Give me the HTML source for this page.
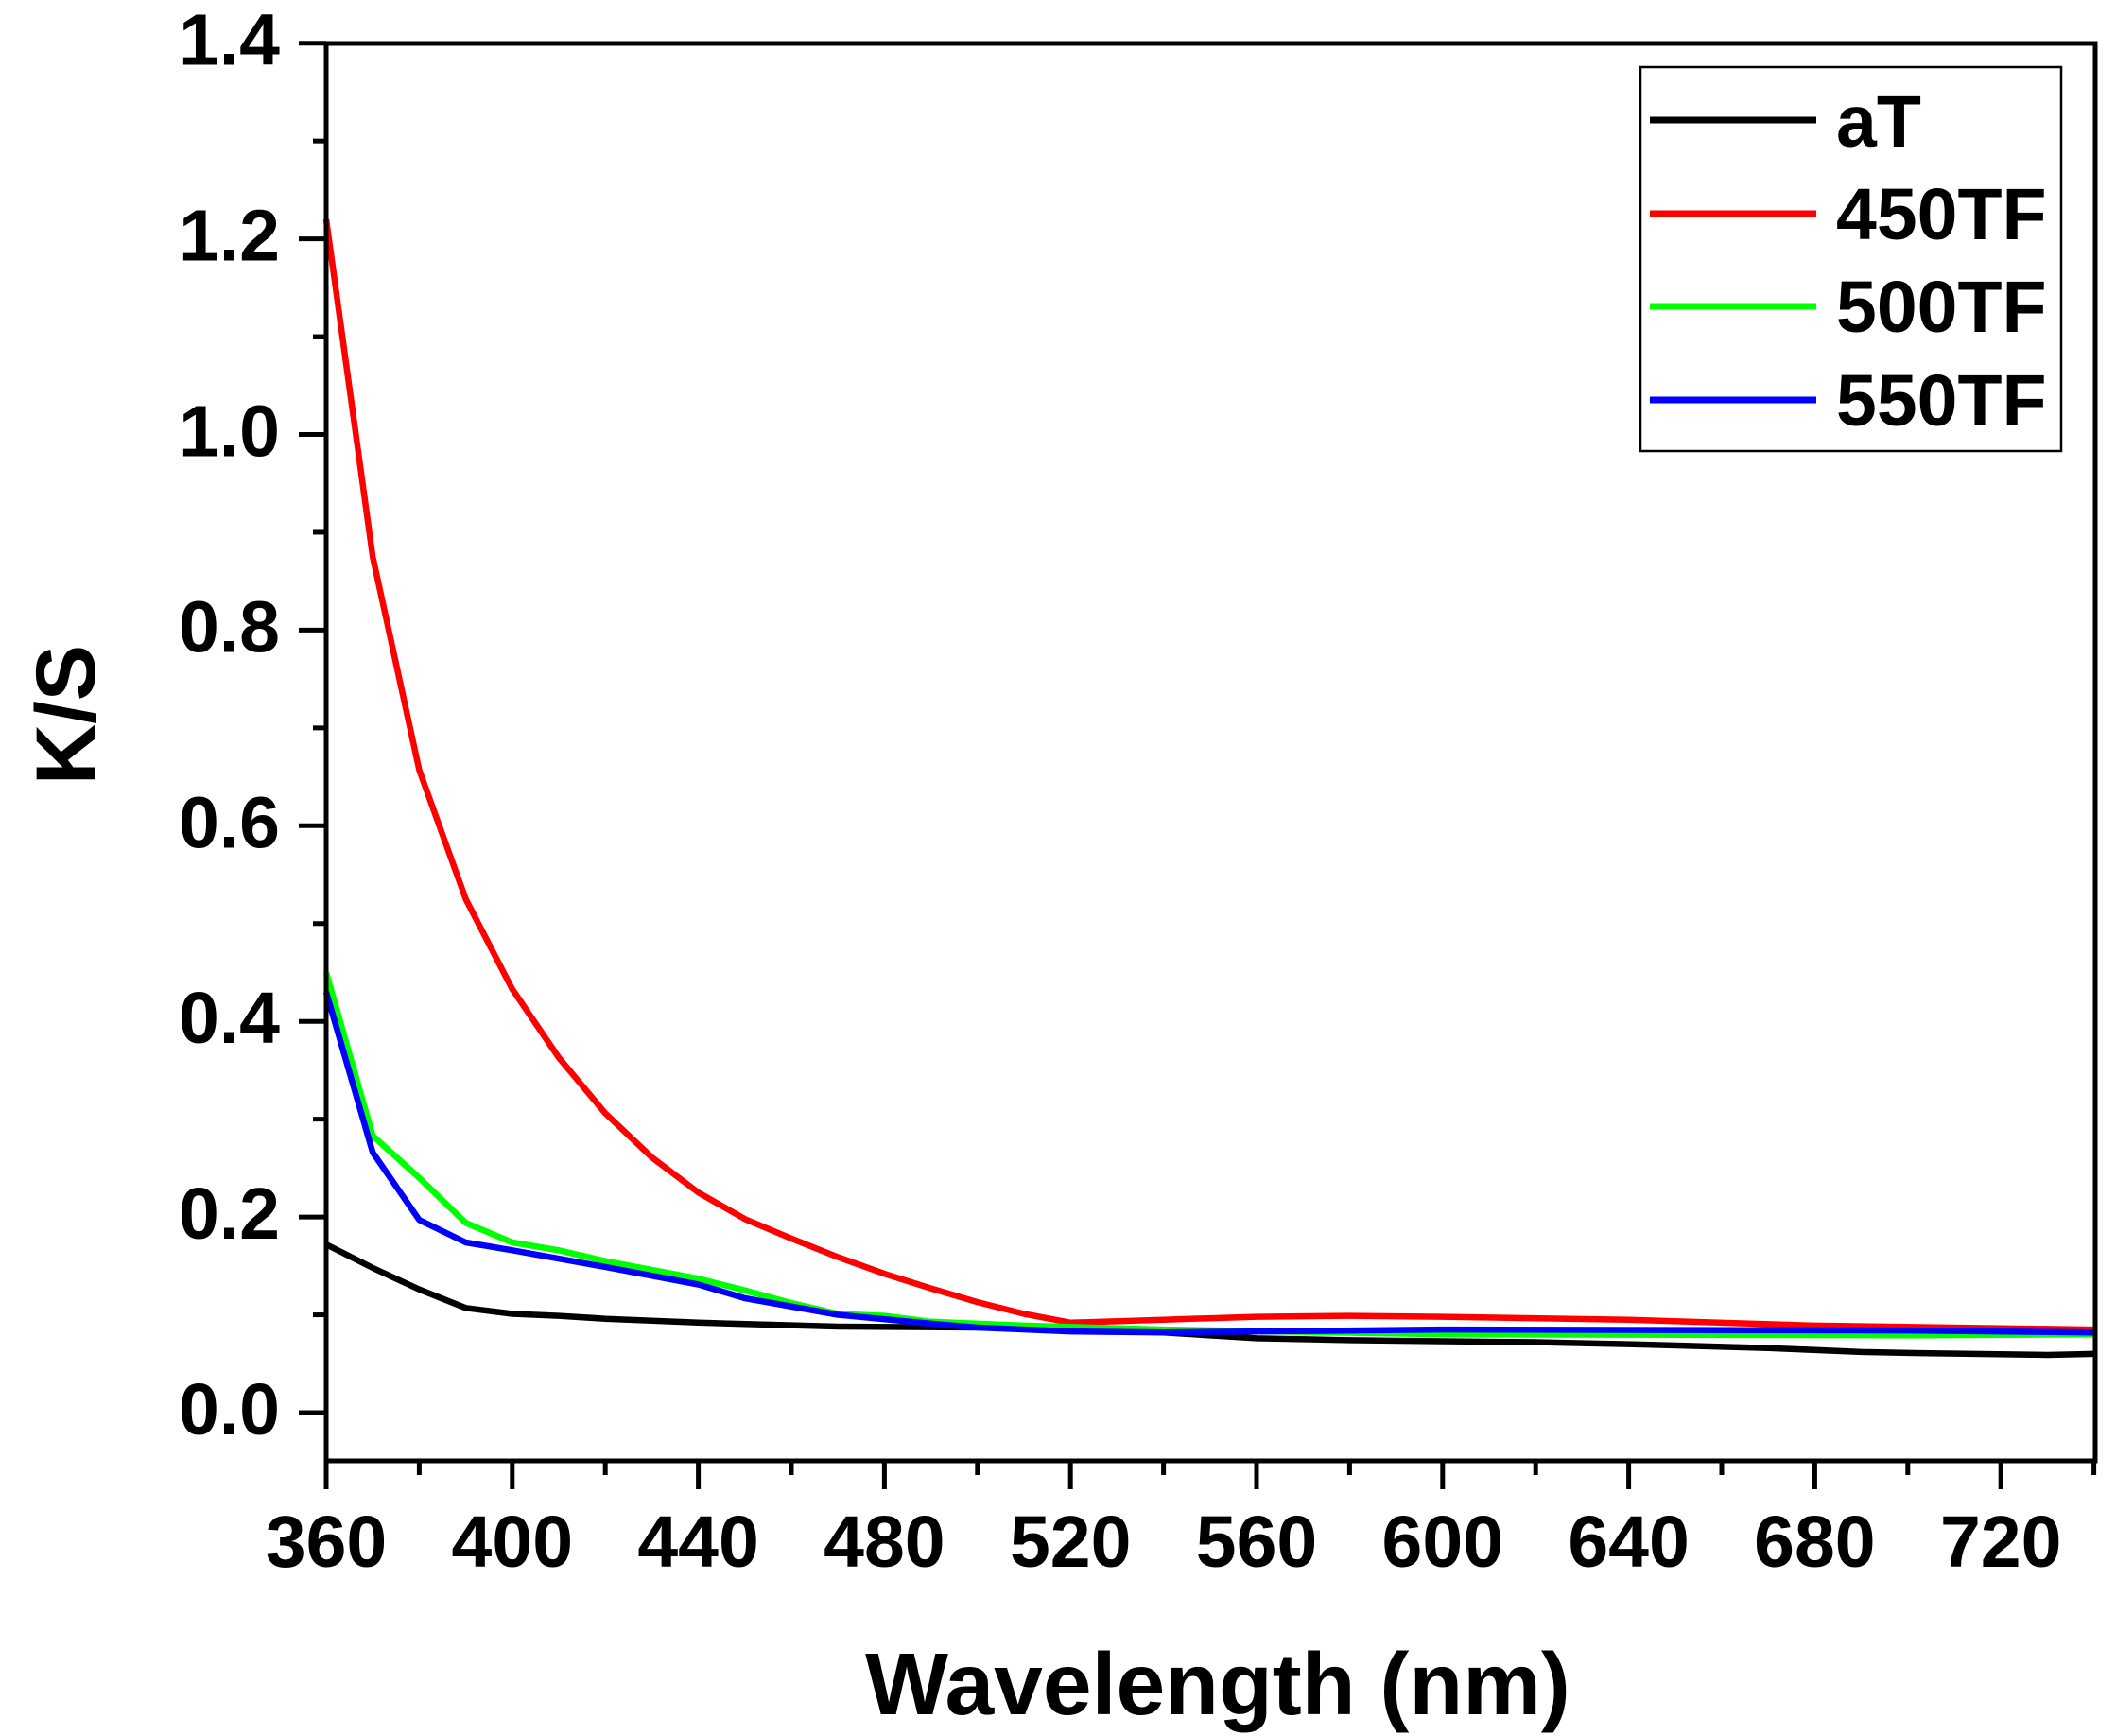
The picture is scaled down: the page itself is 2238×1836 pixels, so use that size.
<!DOCTYPE html>
<html><head><meta charset="utf-8"><style>
html,body{margin:0;padding:0;background:#fff;}
svg{display:block;}
text{font-family:"Liberation Sans",Arial,sans-serif;font-weight:bold;fill:#000;}
</style></head><body>
<svg id="s" width="2238" height="1836" viewBox="0 0 2238 1836" xmlns="http://www.w3.org/2000/svg">
<g id="ticks" stroke="#000" stroke-width="5"></g>
<g id="series" fill="none" stroke-width="6.5" stroke-linejoin="round"></g>
<rect x="345" y="46" width="1871" height="1499" fill="none" stroke="#000" stroke-width="5"/>
<g font-size="77" text-anchor="end" id="ylab"></g>
<g font-size="77" text-anchor="middle" id="xlab"></g>
<text x="1288" y="1813" font-size="93" text-anchor="middle">Wavelength (nm)</text>
<text transform="translate(100,756) rotate(-90)" font-size="89" text-anchor="middle">K/S</text>
<rect x="1735" y="71" width="445" height="406" fill="#fff" stroke="#000" stroke-width="2.5"/>
<g stroke-width="7">
<line x1="1745" y1="127" x2="1921" y2="127" stroke="#000"/>
<line x1="1745" y1="226" x2="1921" y2="226" stroke="#f00"/>
<line x1="1745" y1="324" x2="1921" y2="324" stroke="#0f0"/>
<line x1="1745" y1="423" x2="1921" y2="423" stroke="#00f"/>
</g>
<g font-size="77">
<text x="1942" y="155">aT</text>
<text x="1942" y="253">450TF</text>
<text x="1942" y="351">500TF</text>
<text x="1942" y="450">550TF</text>
</g>
</svg>
<script>
var X=function(w){return 345+(w-360)*196.8/40;};
var Y=function(v){return 1494-v*206.9/0.2;};
var h='';
for(var i=0;i<=14;i++){var y=Y(i*0.1);var L=i%2?14:29;h+='<line x1="'+(345-L)+'" y1="'+y+'" x2="345" y2="'+y+'"/>';}
for(var w=360;w<=740;w+=20){var x=X(w);var L=(w-360)%40?15:30;h+='<line x1="'+x+'" y1="1545" x2="'+x+'" y2="'+(1545+L)+'"/>';}
document.getElementById('ticks').innerHTML=h;
var yl='';for(var i=0;i<=7;i++){yl+='<text x="296" y="'+(Y(i*0.2)+23).toFixed(1)+'">'+(i*0.2).toFixed(1)+'</text>';}
document.getElementById('ylab').innerHTML=yl;
var xl='';for(var w=360;w<=720;w+=40){xl+='<text x="'+X(w).toFixed(1)+'" y="1657">'+w+'</text>';}
document.getElementById('xlab').innerHTML=xl;
var D={
"#000":[[360,.172],[370,.148],[380,.126],[390,.107],[400,.101],[410,.099],[420,.096],[440,.092],[470,.088],[500,.087],[520,.086],[540,.082],[560,.076],[580,.074],[600,.073],[620,.072],[640,.070],[670,.066],[690,.062],[700,.061],[730,.059],[740,.060]],
"#f00":[[360,1.22],[370,.875],[380,.657],[390,.525],[400,.433],[410,.363],[420,.306],[430,.261],[440,.225],[450,.198],[460,.178],[470,.159],[480,.142],[490,.127],[500,.113],[510,.101],[520,.092],[540,.095],[560,.098],[580,.099],[600,.098],[640,.095],[680,.089],[740,.085]],
"#0f0":[[360,.45],[370,.283],[380,.24],[390,.194],[400,.174],[410,.166],[420,.155],[440,.137],[450,.125],[460,.112],[470,.101],[480,.099],[490,.093],[510,.089],[540,.085],[600,.080],[700,.079],[740,.080]],
"#00f":[[360,.43],[370,.266],[380,.197],[390,.174],[400,.166],[420,.149],[440,.131],[450,.117],[470,.100],[490,.091],[500,.087],[520,.083],[540,.082],[600,.085],[700,.084],[740,.082]]};
var s='';for(var c in D){s+='<polyline stroke="'+c+'" points="'+D[c].map(function(p){return X(p[0]).toFixed(1)+','+Y(p[1]).toFixed(1);}).join(' ')+'"/>';}
document.getElementById('series').innerHTML=s;
</script>
</body></html>
